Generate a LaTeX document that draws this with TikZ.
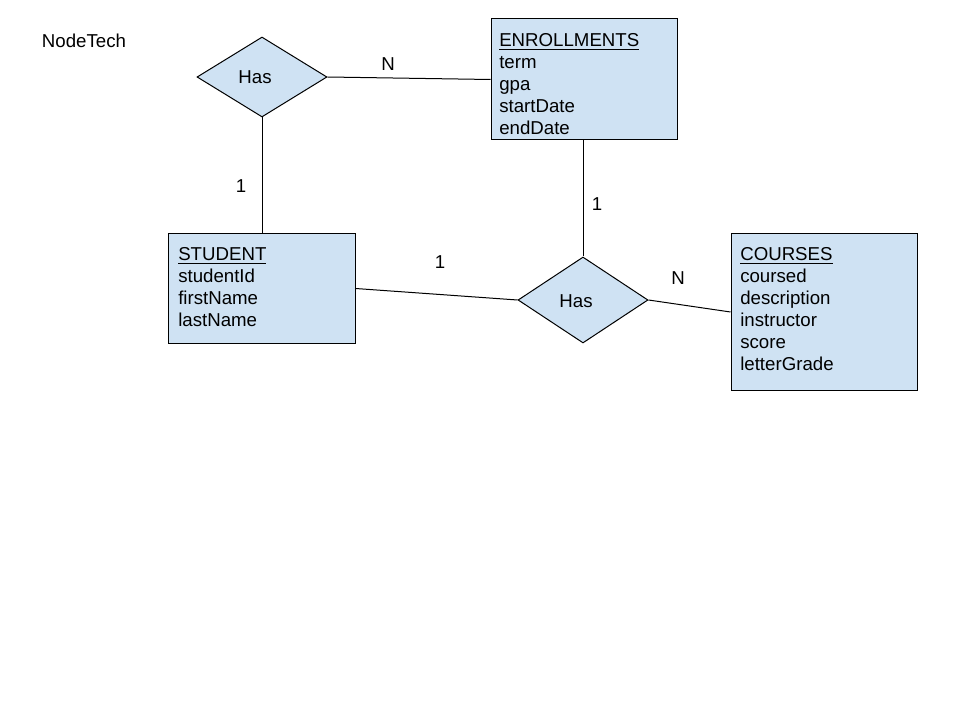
\documentclass[tikz,border=0pt]{standalone}
\usepackage{fontspec}
\setmainfont{Liberation Sans}
\usetikzlibrary{shapes.geometric}
\definecolor{erblue}{HTML}{CFE2F3}
\begin{document}
\begin{tikzpicture}[x=0.75pt,y=-0.75pt,
  every node/.style={font=\fontsize{14}{16.5}\selectfont},
  entity/.style={draw=black,fill=erblue,line width=0.75pt,rectangle,inner sep=0pt},
  relation/.style={draw=black,fill=erblue,line width=0.75pt,diamond,inner sep=0pt},
  attrs/.style={align=left,anchor=north west,inner sep=0pt},
  lbl/.style={inner sep=0pt},
  link/.style={draw=black,line width=0.75pt}]
\useasboundingbox[fill=white] (0,0) rectangle (960,720);
% entities
\node[entity,minimum width=186*0.75pt,minimum height=121*0.75pt] (enr) at (584,79.5) {};
\node[entity,minimum width=187*0.75pt,minimum height=109*0.75pt] (stu) at (261.5,288.5) {};
\node[entity,minimum width=186*0.75pt,minimum height=156*0.75pt] (crs) at (824,312) {};
% relations
\node[relation,minimum width=130*0.75pt,minimum height=80*0.75pt] (has1) at (262,77) {};
\node[relation,minimum width=130*0.75pt,minimum height=86*0.75pt] (has2) at (583,300) {};
% texts
\node[attrs] (enrtxt) at (499,33.5) {\underline{ENROLLMENTS}\\term\\gpa\\startDate\\endDate};
\node[attrs] (stutxt) at (178,247.5) {\underline{STUDENT}\\studentId\\firstName\\lastName};
\node[attrs] (crstxt) at (740,247.5) {\underline{COURSES}\\coursed\\description\\instructor\\score\\letterGrade};
\node[lbl] (has1txt) at (255,77) {Has};
\node[lbl] (has2txt) at (576,301) {Has};
\node[lbl] (title) at (84,41) {NodeTech};
% connectors
\draw[link] (has1.east) -- (enr.west);
\draw[link] (has1.south) -- (has1.south |- stu.north);
\draw[link] (has2.north |- enr.south) -- (has2.north);
\draw[link] (stu.east) -- (has2.west);
\draw[link] (has2.east) -- (crs.west);
% cardinalities
\node[lbl] (c1) at (388,64) {N};
\node[lbl] (c2) at (241,186) {1};
\node[lbl] (c3) at (597,204) {1};
\node[lbl] (c4) at (440,262) {1};
\node[lbl] (c5) at (678,278) {N};
\end{tikzpicture}
\end{document}
